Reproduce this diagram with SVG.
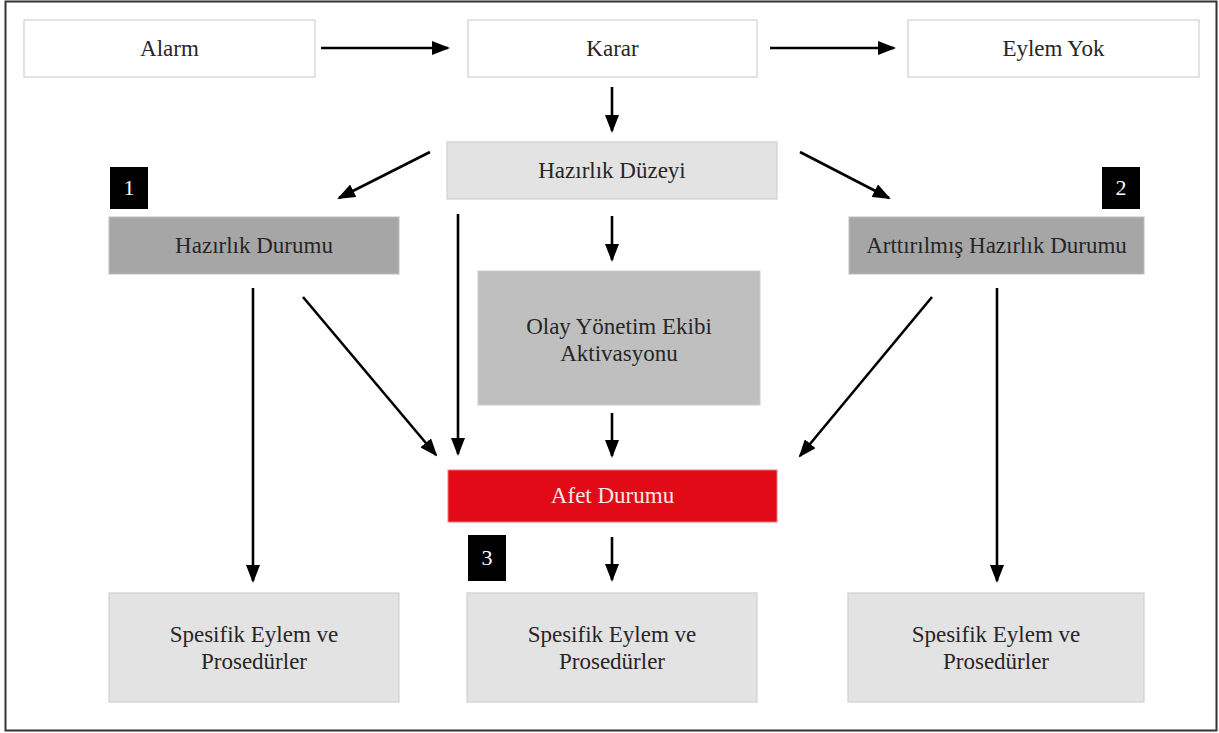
<svg xmlns="http://www.w3.org/2000/svg" width="1219" height="733" viewBox="0 0 1219 733">
<style>
.t{font-size:23px;fill:#262626;text-anchor:middle}
.w{fill:#ffffff;stroke:#d0d0d0;stroke-width:1.2}
.lg{fill:#e3e3e3;stroke:#d0d0d0;stroke-width:1.2}
.dg{fill:#a6a6a6;stroke:#bdbdbd;stroke-width:1}
.mg{fill:#bfbfbf;stroke:#cccccc;stroke-width:1}
.red{fill:#e30a17;stroke:#f07a80;stroke-width:1}
.bx{fill:#000000}
.bn{font-size:22px;fill:#ffffff;text-anchor:middle}
.c line{stroke:#000000;stroke-width:2.6;marker-end:url(#ah)}
</style>
<defs>
<marker id="ah" markerUnits="userSpaceOnUse" markerWidth="18" markerHeight="14" refX="16" refY="7" orient="auto">
<path d="M0,0 L18,7 L0,14 Z" fill="#000000"/>
</marker>
</defs>
<rect x="0" y="0" width="1219" height="733" fill="#ffffff"/>
<rect x="5.5" y="1.5" width="1211" height="729" fill="none" stroke="#333333" stroke-width="2"/>

<g font-family="Liberation Serif, Times New Roman, DejaVu Serif, serif">
<g id="alarm"><rect class="w" x="24" y="20" width="291" height="57"/><text class="t" x="169.5" y="56">Alarm</text></g>
<g id="karar"><rect class="w" x="468" y="20" width="289" height="57"/><text class="t" x="612.5" y="56">Karar</text></g>
<g id="eylem-yok"><rect class="w" x="908" y="20" width="291" height="57"/><text class="t" x="1053.5" y="56">Eylem Yok</text></g>
<g id="hazirlik-duzeyi"><rect class="lg" x="447" y="142" width="330" height="57"/><text class="t" x="612" y="178">Hazırlık Düzeyi</text></g>
<g id="badge1"><rect class="bx" x="110" y="167" width="38" height="42"/><text class="bn" x="129" y="195">1</text></g>
<g id="badge2"><rect class="bx" x="1102" y="167" width="38" height="42"/><text class="bn" x="1121" y="195">2</text></g>
<g id="badge3"><rect class="bx" x="468" y="535" width="38" height="46"/><text class="bn" x="487" y="565">3</text></g>
<g id="hazirlik-durumu"><rect class="dg" x="109" y="217" width="290" height="57"/><text class="t" x="254" y="253">Hazırlık Durumu</text></g>
<g id="arttirilmis"><rect class="dg" x="849" y="217" width="295" height="57"/><text class="t" x="996.5" y="253">Arttırılmış Hazırlık Durumu</text></g>
<g id="olay"><rect class="mg" x="478" y="271" width="282" height="134"/><text class="t" x="619" y="334">Olay Yönetim Ekibi</text><text class="t" x="619" y="361">Aktivasyonu</text></g>
<g id="afet"><rect class="red" x="448" y="470" width="329" height="52"/><text class="t" x="612.5" y="503" fill="#fbe7e7" style="fill:#fbe7e7">Afet Durumu</text></g>
<g id="spesifik1"><rect class="lg" x="109" y="593" width="290" height="109"/><text class="t" x="254" y="642">Spesifik Eylem ve</text><text class="t" x="254" y="669">Prosedürler</text></g>
<g id="spesifik2"><rect class="lg" x="467" y="593" width="290" height="109"/><text class="t" x="612" y="642">Spesifik Eylem ve</text><text class="t" x="612" y="669">Prosedürler</text></g>
<g id="spesifik3"><rect class="lg" x="848" y="593" width="296" height="109"/><text class="t" x="996" y="642">Spesifik Eylem ve</text><text class="t" x="996" y="669">Prosedürler</text></g>
</g>

<g id="connectors" class="c">
<line x1="321" y1="48" x2="448" y2="48"/>
<line x1="770" y1="48" x2="894" y2="48"/>
<line x1="612" y1="87" x2="612" y2="131"/>
<line x1="430" y1="152" x2="339" y2="198"/>
<line x1="800" y1="152" x2="889" y2="198"/>
<line x1="612" y1="216" x2="612" y2="260"/>
<line x1="458" y1="214" x2="458" y2="454"/>
<line x1="303" y1="297" x2="436" y2="455"/>
<line x1="932" y1="297" x2="800" y2="456"/>
<line x1="612" y1="413" x2="612" y2="456"/>
<line x1="612" y1="537" x2="612" y2="580"/>
<line x1="253" y1="288" x2="253" y2="581"/>
<line x1="997" y1="288" x2="997" y2="581"/>
</g>
</svg>
